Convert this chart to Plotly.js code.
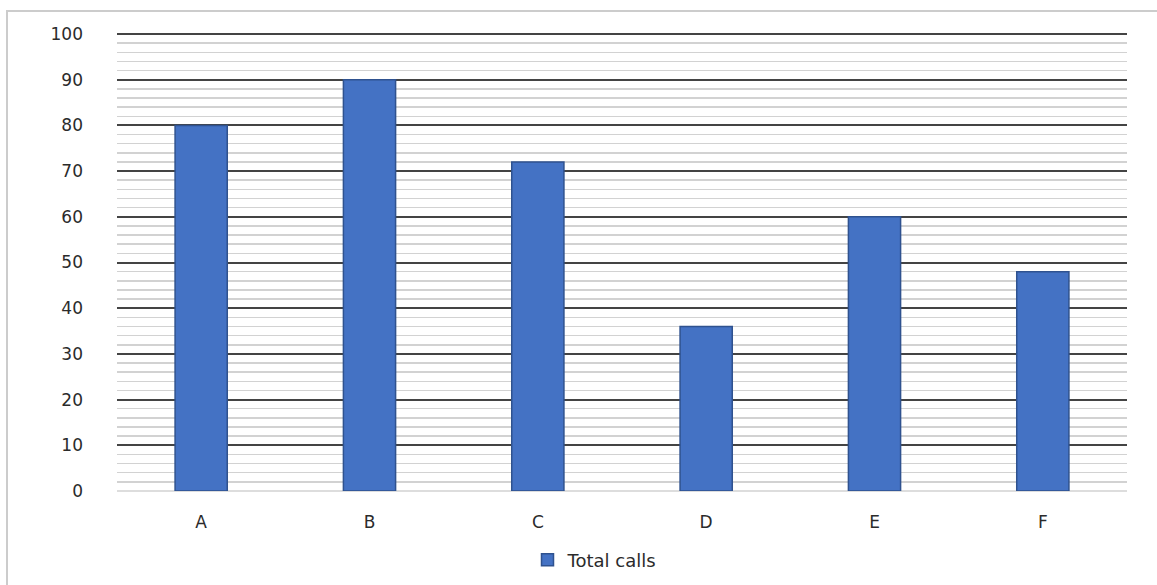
<!DOCTYPE html>
<html>
<head>
<meta charset="utf-8">
<script src="https://cdn.plot.ly/plotly-3.0.1.min.js"></script>
<style>
  html, body { margin: 0; padding: 0; background: #ffffff; }
  #chart { width: 1157px; height: 585px; }
</style>
</head>
<body>
<div id="chart"></div>
<script>
const categories = ["A", "B", "C", "D", "E", "F"];
const totalCalls = [80, 90, 72, 36, 60, 48];
const yTickValues = [0, 10, 20, 30, 40, 50, 60, 70, 80, 90, 100];
const seriesName = "Total calls";

const W = 1157, H = 585;
const margin = { l: 117, r: 30, t: 34, b: 94, autoexpand: false };
const plotW = W - margin.l - margin.r;
const plotH = H - margin.t - margin.b;
const px = X => (X - margin.l) / plotW;
const py = Y => (H - margin.b - Y) / plotH;

const trace = {
  type: "bar",
  x: categories,
  y: totalCalls,
  name: seriesName,
  marker: { color: "#4472C4", line: { color: "#2F528F", width: 1.5 } },
  hoverinfo: "x+y",
  showlegend: true
};

const layout = {
  width: W,
  height: H,
  margin: margin,
  paper_bgcolor: "#ffffff",
  plot_bgcolor: "#ffffff",
  font: { family: "DejaVu Sans, Verdana, sans-serif", size: 17, color: "#2b2b2b" },
  bargap: 0.69,
  showlegend: true,
  legend: {
    orientation: "h",
    x: px(595), xanchor: "center",
    y: py(560), yanchor: "middle",
    font: { size: 18, color: "#2b2b2b" },
    itemwidth: 30,
    traceorder: "normal"
  },
  xaxis: {
    type: "category",
    showgrid: false,
    zeroline: false,
    showline: false,
    ticks: "",
    ticklabelstandoff: 19,
    tickfont: { size: 17, color: "#2b2b2b" }
  },
  yaxis: {
    range: [0, 100],
    tickvals: yTickValues,
    showgrid: true,
    gridcolor: "#444444",
    gridwidth: 2,
    zeroline: false,
    showline: false,
    ticks: "",
    ticklabelstandoff: 33,
    tickfont: { size: 17, color: "#2b2b2b" },
    minor: { dtick: 2, showgrid: true, gridcolor: "#d2d2d2", gridwidth: 1.5 }
  },
  shapes: [
    {
      type: "rect", xref: "paper", yref: "paper",
      x0: px(7), x1: px(1170), y0: py(600), y1: py(11),
      line: { color: "#cccccc", width: 2 },
      fillcolor: "rgba(0,0,0,0)",
      layer: "below"
    },
    {
      type: "line", xref: "paper", yref: "paper",
      x0: 0, x1: 1, y0: py(34), y1: py(34),
      line: { color: "#444444", width: 2 },
      layer: "below"
    },
    {
      type: "line", xref: "paper", yref: "paper",
      x0: 0, x1: 1, y0: py(491), y1: py(491),
      line: { color: "#d2d2d2", width: 1.5 },
      layer: "below"
    }
  ]
};

Plotly.newPlot("chart", [trace], layout, { displayModeBar: false, staticPlot: true });
</script>
</body>
</html>
